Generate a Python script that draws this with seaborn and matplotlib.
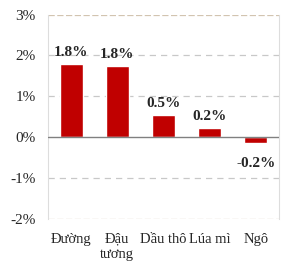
import matplotlib
matplotlib.use("Agg")
import matplotlib.pyplot as plt
import seaborn as sns
import pandas as pd

categories = ["Đường", "Đậu\ntương", "Dầu thô", "Lúa mì", "Ngô"]
values = [1.80, 1.74, 0.53, 0.22, -0.15]
labels = ["1.8%", "1.8%", "0.5%", "0.2%", "-0.2%"]
yticks = [-2, -1, 0, 1, 2, 3]
ytick_labels = ["-2%", "-1%", "0%", "1%", "2%", "3%"]

sns.set_style("white")
plt.rcParams["font.family"] = ["Liberation Serif", "DejaVu Serif"]

df = pd.DataFrame({"cat": categories, "val": values})
fig = plt.figure(figsize=(3.0, 2.65), dpi=100)
ax = fig.add_axes([0.16, 0.175, 0.77, 0.77])
sns.barplot(data=df, x="cat", y="val", color="#C00000", width=0.5, ax=ax, saturation=1)

ax.set_ylim(-2, 3)
ax.set_yticks(yticks)
ax.set_yticklabels(ytick_labels, fontsize=11)
ax.set_xlabel("")
ax.set_ylabel("")
ax.tick_params(axis="x", labelsize=10.5, length=0, pad=10)
ax.tick_params(axis="y", length=0, pad=9)
for lab in ax.get_xticklabels():
    lab.set_linespacing(1.25)

for y in [-1, 1, 2]:
    ax.axhline(y, color="#C8C8C8", lw=0.9, ls=(0, (5, 4)), zorder=0)
for y in [-2, 3]:
    ax.axhline(y, color="#D2C4B0", lw=0.9, ls=(0, (5, 2)), zorder=0)
ax.axhline(0, color="#808080", lw=1.0, zorder=3)

for s in ["top", "bottom"]:
    ax.spines[s].set_visible(False)
for s in ["left", "right"]:
    ax.spines[s].set_color("#DDDDDD")
    ax.spines[s].set_linewidth(0.8)

for i, (v, t) in enumerate(zip(values, labels)):
    if v >= 0:
        ax.text(i, v + 0.12, t, ha="center", va="bottom", fontsize=11, fontweight="bold")
    else:
        ax.text(i, v - 0.35, t, ha="center", va="top", fontsize=11, fontweight="bold")

fig.savefig("out.png", dpi=100)
